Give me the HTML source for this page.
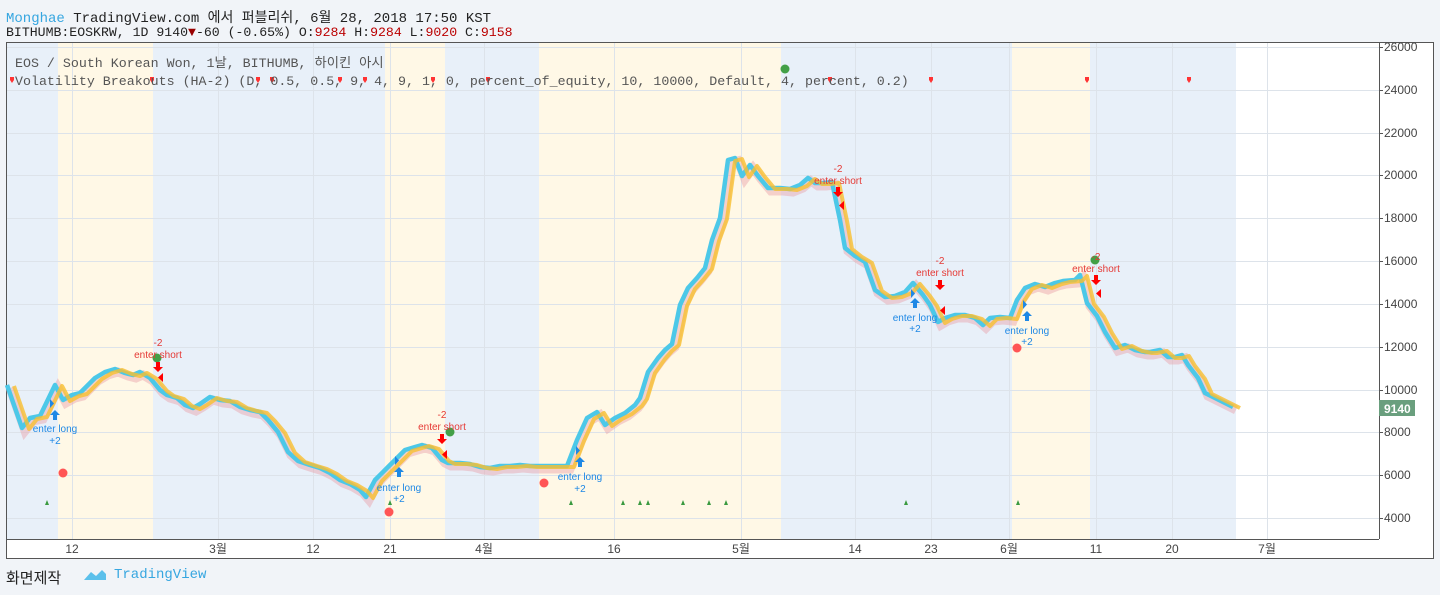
<!DOCTYPE html>
<html><head><meta charset="utf-8"><style>
body{margin:0;width:1440px;height:595px;background:#f1f4f8;overflow:hidden;font-family:"Liberation Mono","Noto Sans CJK KR",monospace;}
.h{position:absolute;left:6px;font-size:14px;color:#222;white-space:pre;}
.r{color:#b00;}
</style></head><body>
<div class="h" style="top:7px"><span style="color:#36a6e0">Monghae</span> TradingView.com 에서 퍼블리쉬, 6월 28, 2018 17:50 KST</div>
<div class="h" style="top:25px;font-size:13.2px">BITHUMB:EOSKRW, 1D 9140<span style="color:#900">▼</span>-60 (-0.65%) O:<span class="r">9284</span> H:<span class="r">9284</span> L:<span class="r">9020</span> C:<span class="r">9158</span></div>
<svg width="1440" height="595" style="position:absolute;left:0;top:0" font-family="Liberation Sans,sans-serif">
<rect x="6.5" y="42.5" width="1427" height="516" fill="#fff" stroke="#555"/>
<g>
<rect x="7" y="43" width="51" height="496" fill="#e8f0f9"/>
<rect x="58" y="43" width="95" height="496" fill="#fff8e6"/>
<rect x="153" y="43" width="232" height="496" fill="#e8f0f9"/>
<rect x="385" y="43" width="60" height="496" fill="#fff8e6"/>
<rect x="445" y="43" width="94" height="496" fill="#e8f0f9"/>
<rect x="539" y="43" width="242" height="496" fill="#fff8e6"/>
<rect x="781" y="43" width="231" height="496" fill="#e8f0f9"/>
<rect x="1012" y="43" width="78" height="496" fill="#fff8e6"/>
<rect x="1090" y="43" width="146" height="496" fill="#e8f0f9"/>
</g>
<g stroke="#dde3ea" stroke-width="1">
<line x1="7" x2="1379" y1="47.5" y2="47.5"/><line x1="7" x2="1379" y1="90.5" y2="90.5"/><line x1="7" x2="1379" y1="133.5" y2="133.5"/><line x1="7" x2="1379" y1="175.5" y2="175.5"/><line x1="7" x2="1379" y1="218.5" y2="218.5"/><line x1="7" x2="1379" y1="261.5" y2="261.5"/><line x1="7" x2="1379" y1="304.5" y2="304.5"/><line x1="7" x2="1379" y1="347.5" y2="347.5"/><line x1="7" x2="1379" y1="390.5" y2="390.5"/><line x1="7" x2="1379" y1="432.5" y2="432.5"/><line x1="7" x2="1379" y1="475.5" y2="475.5"/><line x1="7" x2="1379" y1="518.5" y2="518.5"/>
<line x1="72.5" x2="72.5" y1="43" y2="539"/><line x1="218.5" x2="218.5" y1="43" y2="539"/><line x1="313.5" x2="313.5" y1="43" y2="539"/><line x1="390.5" x2="390.5" y1="43" y2="539"/><line x1="484.5" x2="484.5" y1="43" y2="539"/><line x1="614.5" x2="614.5" y1="43" y2="539"/><line x1="741.5" x2="741.5" y1="43" y2="539"/><line x1="855.5" x2="855.5" y1="43" y2="539"/><line x1="931.5" x2="931.5" y1="43" y2="539"/><line x1="1009.5" x2="1009.5" y1="43" y2="539"/><line x1="1096.5" x2="1096.5" y1="43" y2="539"/><line x1="1172.5" x2="1172.5" y1="43" y2="539"/><line x1="1267.5" x2="1267.5" y1="43" y2="539"/>
</g>
<line x1="1379.5" x2="1379.5" y1="43" y2="539" stroke="#555"/>
<line x1="7" x2="1379" y1="539.5" y2="539.5" stroke="#555"/>
<defs><polyline id="ln" fill="none" points="7,385 22,428 30,418 40,416 55,385 63,400 72,395 80,393 95,378 105,372 115,369 125,373 133,375 140,372 150,378 160,390 167,395 177,398 185,405 193,408 200,404 210,397 220,400 230,401 240,407 250,410 260,412 268,420 278,432 288,452 298,461 310,465 320,468 330,473 340,480 350,484 360,490 366,497 375,480 385,470 395,460 405,450 415,447 422,445 432,448 442,460 448,463 460,463 470,464 480,467 490,468 500,466 510,466 520,465 530,466 540,466 550,466 560,466 567,466 577,440 587,418 597,412 605,425 615,418 625,413 635,405 640,398 648,372 658,358 665,350 672,344 680,305 688,288 697,278 705,268 712,240 720,218 728,160 735,158 742,176 750,165 758,176 768,188 780,188 790,189 800,185 808,178 815,183 823,183 832,182 840,220 845,248 855,256 865,262 875,290 885,297 895,296 905,292 913,283 923,295 930,305 938,322 945,318 955,315 965,315 975,318 983,325 990,318 1000,317 1010,318 1017,300 1025,288 1035,284 1045,287 1055,283 1063,281 1075,280 1080,275 1087,303 1097,316 1105,332 1115,348 1125,345 1135,350 1145,352 1150,352 1160,350 1168,357 1175,357 1182,355 1188,365 1198,378 1205,393 1215,398 1225,403 1233,407"/></defs>
<use href="#ln" stroke="#e8a0a8" stroke-width="9" opacity="0.45" transform="translate(3,3)"/>
<use href="#ln" stroke="#4cc8e8" stroke-width="4.5" stroke-linejoin="round"/>
<use href="#ln" stroke="#f7bf30" stroke-width="4" stroke-linejoin="round" opacity="0.8" transform="translate(7,1)"/>
<g fill="#e33">
<circle cx="63" cy="473" r="4.5" fill="#f55"/><circle cx="389" cy="512" r="4.5" fill="#f55"/><circle cx="544" cy="483" r="4.5" fill="#f55"/><circle cx="1017" cy="348" r="4.5" fill="#f55"/>
</g>
<g fill="#43a047"><circle cx="157" cy="358" r="4.5"/><circle cx="450" cy="432" r="4.5"/><circle cx="785" cy="69" r="4.5"/><circle cx="1095" cy="260" r="4.5"/></g>
<g fill="#3a9a40">
<path d="M45,505 l2,-5 2,5z"/><path d="M388,505 l2,-5 2,5z"/><path d="M569,505 l2,-5 2,5z"/><path d="M621,505 l2,-5 2,5z"/><path d="M638,505 l2,-5 2,5z"/><path d="M646,505 l2,-5 2,5z"/><path d="M681,505 l2,-5 2,5z"/><path d="M707,505 l2,-5 2,5z"/><path d="M724,505 l2,-5 2,5z"/><path d="M904,505 l2,-5 2,5z"/><path d="M1016,505 l2,-5 2,5z"/>
</g>
<g fill="#f33">
<path d="M10,77 h4 v3 l-2,3 -2,-3z"/><path d="M150,77 h4 v3 l-2,3 -2,-3z"/><path d="M256,77 h4 v3 l-2,3 -2,-3z"/><path d="M270,77 h4 v3 l-2,3 -2,-3z"/><path d="M338,77 h4 v3 l-2,3 -2,-3z"/><path d="M363,77 h4 v3 l-2,3 -2,-3z"/><path d="M431,77 h4 v3 l-2,3 -2,-3z"/><path d="M486,77 h4 v3 l-2,3 -2,-3z"/><path d="M828,77 h4 v3 l-2,3 -2,-3z"/><path d="M929,77 h4 v3 l-2,3 -2,-3z"/><path d="M1085,77 h4 v3 l-2,3 -2,-3z"/><path d="M1187,77 h4 v3 l-2,3 -2,-3z"/>
</g>
<g font-size="10" fill="#1e88e5" text-anchor="middle">
<path d="M55,410 l-5,5 h3 v5 h4 v-5 h3z"/><path d="M50,399 v9 l4,-4.5z"/><text x="55" y="432">enter long</text><text x="55" y="444">+2</text>
<path d="M399,467 l-5,5 h3 v5 h4 v-5 h3z"/><path d="M395,456 v9 l4,-4.5z"/><text x="399" y="491">enter long</text><text x="399" y="502">+2</text>
<path d="M580,457 l-5,5 h3 v5 h4 v-5 h3z"/><path d="M576,446 v9 l4,-4.5z"/><text x="580" y="480">enter long</text><text x="580" y="492">+2</text>
<path d="M915,298 l-5,5 h3 v5 h4 v-5 h3z"/><path d="M911,289 v9 l4,-4.5z"/><text x="915" y="321">enter long</text><text x="915" y="332">+2</text>
<path d="M1027,311 l-5,5 h3 v5 h4 v-5 h3z"/><path d="M1023,300 v9 l4,-4.5z"/><text x="1027" y="334">enter long</text><text x="1027" y="345">+2</text>
</g>
<g font-size="10" fill="#e53935" text-anchor="middle">
<text x="158" y="346">-2</text><text x="158" y="358">enter short</text><path d="M156,362 h4 v5 h3 l-5,5 -5,-5 h3z" fill="#f00"/><path d="M163,373 v9 l-5,-4.5z" fill="#f00"/>
<text x="442" y="418">-2</text><text x="442" y="430">enter short</text><path d="M440,434 h4 v5 h3 l-5,5 -5,-5 h3z" fill="#f00"/><path d="M447,450 v9 l-5,-4.5z" fill="#f00"/>
<text x="838" y="172">-2</text><text x="838" y="184">enter short</text><path d="M836,187 h4 v5 h3 l-5,5 -5,-5 h3z" fill="#f00"/><path d="M844,201 v9 l-5,-4.5z" fill="#f00"/>
<text x="940" y="264">-2</text><text x="940" y="276">enter short</text><path d="M938,280 h4 v5 h3 l-5,5 -5,-5 h3z" fill="#f00"/><path d="M945,306 v9 l-5,-4.5z" fill="#f00"/>
<text x="1096" y="260">-2</text><text x="1096" y="272">enter short</text><path d="M1094,275 h4 v5 h3 l-5,5 -5,-5 h3z" fill="#f00"/><path d="M1101,289 v9 l-5,-4.5z" fill="#f00"/>
</g>
<g font-family="Liberation Mono,Noto Sans CJK KR,monospace" font-size="13.3" fill="#555">
<text x="15" y="67">EOS / South Korean Won, 1날, BITHUMB, 하이킨 아시</text>
<text x="15" y="85">Volatility Breakouts (HA-2) (D, 0.5, 0.5, 9, 4, 9, 1, 0, percent_of_equity, 10, 10000, Default, 4, percent, 0.2)</text>
</g>
<g font-size="12" fill="#444">
<text x="1384" y="51">26000</text><text x="1384" y="94">24000</text><text x="1384" y="137">22000</text><text x="1384" y="179">20000</text><text x="1384" y="222">18000</text><text x="1384" y="265">16000</text><text x="1384" y="308">14000</text><text x="1384" y="351">12000</text><text x="1384" y="394">10000</text><text x="1384" y="436">8000</text><text x="1384" y="479">6000</text><text x="1384" y="522">4000</text>
</g>
<g stroke="#555"><line x1="1379" x2="1383" y1="47.5" y2="47.5"/><line x1="1379" x2="1383" y1="90.5" y2="90.5"/><line x1="1379" x2="1383" y1="133.5" y2="133.5"/><line x1="1379" x2="1383" y1="175.5" y2="175.5"/><line x1="1379" x2="1383" y1="218.5" y2="218.5"/><line x1="1379" x2="1383" y1="261.5" y2="261.5"/><line x1="1379" x2="1383" y1="304.5" y2="304.5"/><line x1="1379" x2="1383" y1="347.5" y2="347.5"/><line x1="1379" x2="1383" y1="390.5" y2="390.5"/><line x1="1379" x2="1383" y1="432.5" y2="432.5"/><line x1="1379" x2="1383" y1="475.5" y2="475.5"/><line x1="1379" x2="1383" y1="518.5" y2="518.5"/></g>
<rect x="1379" y="400" width="36" height="16" fill="#6a9f7e"/>
<text x="1384" y="413" font-size="12" font-weight="bold" fill="#fff">9140</text>
<g font-family="Liberation Sans,Noto Sans CJK KR,sans-serif" font-size="12" fill="#444" text-anchor="middle">
<text x="72" y="553">12</text><text x="218" y="553">3월</text><text x="313" y="553">12</text><text x="390" y="553">21</text><text x="484" y="553">4월</text><text x="614" y="553">16</text><text x="741" y="553">5월</text><text x="855" y="553">14</text><text x="931" y="553">23</text><text x="1009" y="553">6월</text><text x="1096" y="553">11</text><text x="1172" y="553">20</text><text x="1267" y="553">7월</text>
</g>
<path d="M84,580 l7,-8 5,4 6,-6 4,4 v6z" fill="#5bc0eb"/>
</svg>
<div class="h" style="top:567px;font-size:15px">화면제작</div>
<div class="h" style="top:567px;left:114px;color:#36a6e0;font-size:14px">TradingView</div>
</body></html>
